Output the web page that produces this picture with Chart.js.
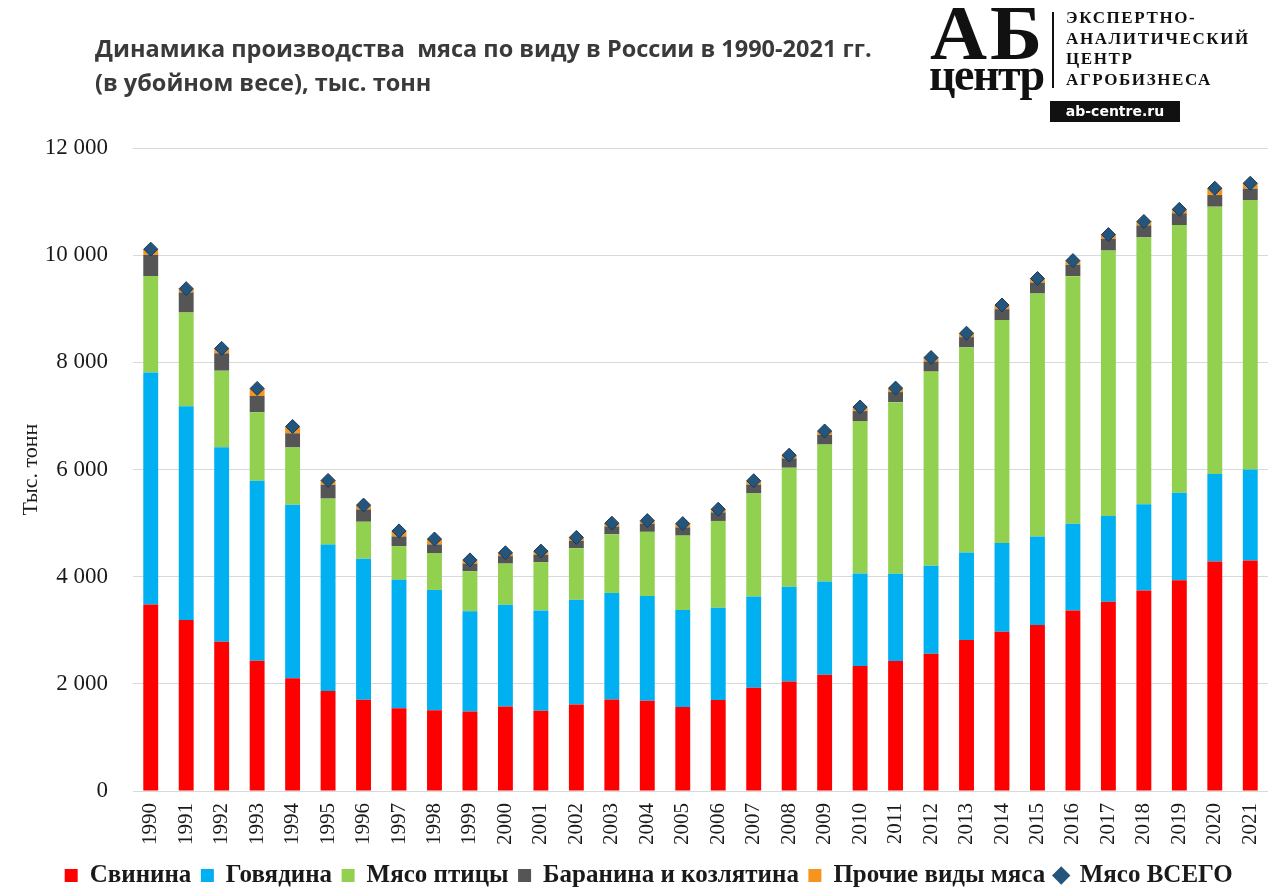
<!DOCTYPE html>
<html><head><meta charset="utf-8">
<script src="https://cdn.jsdelivr.net/npm/chart.js@4.4.1/dist/chart.umd.min.js"></script>
<style>
html,body{margin:0;padding:0;background:#fff;}
#wrap{position:relative;width:1268px;height:888px;overflow:hidden;background:#fff;}
#c{position:absolute;left:0;top:0;}
.title{position:absolute;left:95px;top:31px;font-family:'Open Sans',sans-serif;font-weight:700;font-size:23.5px;line-height:34px;color:#3a3a3a;white-space:pre;}
.ab{position:absolute;left:930px;top:-6px;font-family:'Liberation Serif',serif;font-weight:700;font-size:79px;line-height:78px;letter-spacing:3px;color:#111;}
.centr{position:absolute;left:929px;top:52px;font-family:'Liberation Serif',serif;font-weight:700;font-size:46px;line-height:46px;letter-spacing:-1.5px;color:#111;}
.vline{position:absolute;left:1052px;top:12px;width:2px;height:76px;background:#111;}
.org{position:absolute;left:1066px;top:8px;font-family:'Liberation Serif',serif;font-weight:700;font-size:17px;line-height:20.5px;letter-spacing:1.6px;color:#111;}
.site{position:absolute;left:1050px;top:101px;width:130px;height:21px;background:#111;color:#fff;font-family:'DejaVu Sans',sans-serif;font-weight:700;font-size:14px;line-height:21px;text-align:center;}
</style></head>
<body>
<div id="wrap">
<canvas id="c" width="1268" height="888" style="width:1268px;height:888px"></canvas>
<div class="title">Динамика производства  мяса по виду в России в 1990-2021 гг.
(в убойном весе), тыс. тонн</div>
<div class="ab">АБ</div>
<div class="centr">центр</div>
<div class="vline"></div>
<div class="org">ЭКСПЕРТНО-<br>АНАЛИТИЧЕСКИЙ<br>ЦЕНТР<br>АГРОБИЗНЕСА</div>
<div class="site">ab-centre.ru</div>
</div>
<script>
const years = ['1990','1991','1992','1993','1994','1995','1996','1997','1998','1999','2000','2001','2002','2003','2004','2005','2006','2007','2008','2009','2010','2011','2012','2013','2014','2015','2016','2017','2018','2019','2020','2021'];
const pork = [3480,3190,2784,2432,2103,1865,1705,1546,1505,1485,1578,1498,1612,1706,1686,1569,1699,1929,2042,2169,2331,2428,2560,2816,2974,3099,3368,3531,3742,3934,4282,4300];
const beef = [4329,3989,3632,3359,3240,2733,2630,2395,2247,1868,1898,1872,1957,1990,1955,1809,1723,1699,1769,1741,1727,1625,1642,1633,1654,1649,1619,1603,1608,1630,1633,1700];
const poultry = [1801,1751,1428,1277,1068,859,690,630,690,748,768,902,962,1095,1195,1388,1618,1925,2222,2555,2847,3204,3625,3831,4161,4536,4621,4952,4981,4999,4990,5030];
const mutton = [395,376,325,304,265,259,230,180,160,144,140,135,137,145,154,154,160,166,174,183,185,188,190,190,203,205,214,219,225,219,217,213];
const other = [107,69,91,141,127,80,81,103,101,68,62,70,65,63,56,70,59,71,61,71,77,74,73,74,78,76,77,79,73,73,128,100];
const total = [10112,9375,8260,7513,6803,5796,5336,4854,4703,4313,4446,4477,4733,4999,5046,4990,5259,5790,6268,6719,7167,7519,8090,8544,9070,9565,9899,10384,10629,10855,11250,11343];
const yTicks = [0,2000,4000,6000,8000,10000,12000];

const serif = "'Liberation Serif', 'Times New Roman', serif";
const barCommon = {stack:'meat', order:1, categoryPercentage:1.0, barPercentage:0.42, borderWidth:0};

const legendShift = {
  id:'legendShift',
  afterLayout(chart){ if(chart.legend){ chart.legend.left += 15; chart.legend.right += 15; } }
};

new Chart(document.getElementById('c').getContext('2d'), {
  type:'bar',
  plugins:[legendShift],
  data:{
    labels: years,
    datasets:[
      Object.assign({label:'Свинина', data:pork, backgroundColor:'#ff0000'}, barCommon),
      Object.assign({label:'Говядина', data:beef, backgroundColor:'#00b0f0'}, barCommon),
      Object.assign({label:'Мясо птицы', data:poultry, backgroundColor:'#92d050'}, barCommon),
      Object.assign({label:'Баранина и козлятина', data:mutton, backgroundColor:'#555555'}, barCommon),
      Object.assign({label:'Прочие виды мяса', data:other, backgroundColor:'#f7941d'}, barCommon),
      {type:'line', label:'Мясо ВСЕГО', data:total, stack:'total', order:0, showLine:false,
       pointStyle:'rectRot', pointRadius:7, pointHoverRadius:7,
       backgroundColor:'#24557c', borderColor:'#1c3a58',
       pointBackgroundColor:'#24557c', pointBorderColor:'#1c3a58', pointBorderWidth:1}
    ]
  },
  options:{
    responsive:false, animation:false, events:[],
    layout:{autoPadding:false, padding:{top:148,left:0,right:0,bottom:-10}},
    plugins:{
      tooltip:{enabled:false},
      legend:{
        position:'bottom',
        labels:{
          usePointStyle:true, boxWidth:12, boxHeight:13, padding:10, color:'#1a1a1a',
          font:{family:serif, size:25, weight:'bold'},
          sort:(a,b)=>a.datasetIndex-b.datasetIndex,
          generateLabels(chart){
            const items = Chart.defaults.plugins.legend.labels.generateLabels(chart);
            items.forEach(it=>{
              if(it.datasetIndex<5){ it.pointStyle='rect'; it.lineWidth=0; }
              else { it.pointStyle='rectRot'; it.fillStyle='#24557c'; it.strokeStyle='#1c3a58'; it.lineWidth=0; }
            });
            return items;
          }
        }
      }
    },
    scales:{
      x:{
        stacked:true,
        grid:{display:false},
        border:{color:'#d9d9d9'},
        ticks:{autoSkip:false, minRotation:90, maxRotation:90, padding:4, color:'#1a1a1a', font:{family:serif, size:21}},
        afterFit(s){ s.height = 62; s.paddingLeft = 0; s.paddingRight = 0; }
      },
      y:{
        stacked:true, min:0, max:12000,
        afterBuildTicks(s){ s.ticks = yTicks.map(v=>({value:v})); },
        grid:{color:'#d9d9d9', drawTicks:false},
        border:{display:false},
        ticks:{padding:25, color:'#1a1a1a', font:{family:serif, size:23},
          callback:(v)=>String(v).replace(/\B(?=(\d{3})+(?!\d))/g,' ')},
        title:{display:true, text:'Тыс. тонн', color:'#1a1a1a', font:{family:serif, size:22}, padding:{top:18,bottom:0}},
        afterFit(s){ s.width = 133; }
      }
    }
  }
});
</script>
</body></html>
